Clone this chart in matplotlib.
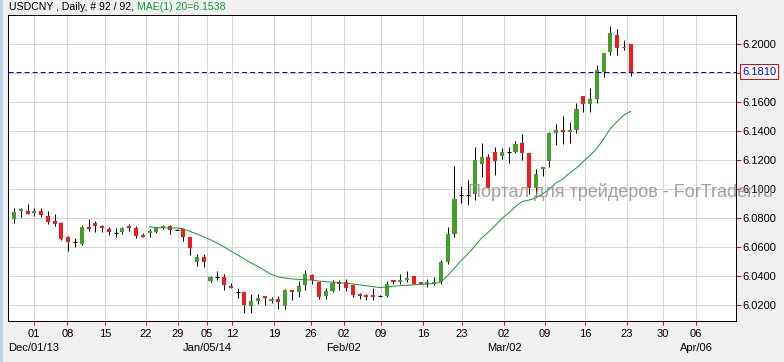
import matplotlib
matplotlib.use('Agg')
import matplotlib.pyplot as plt
import matplotlib.transforms as mtransforms
from matplotlib.patches import Rectangle

# daily USDCNY bars (open, high, low, close)
opens = [6.0790, 6.0853, 6.0847, 6.0840, 6.0847, 6.0817, 6.0778, 6.0764, 6.0668, 6.0635,
         6.0620, 6.0741, 6.0764, 6.0748, 6.0725, 6.0700, 6.0702, 6.0743, 6.0734, 6.0679,
         6.0700, 6.0702, 6.0732, 6.0746, 6.0719, 6.0725, 6.0666, 6.0500, 6.0529, 6.0367,
         6.0394, 6.0394, 6.0329, 6.0287, 6.0287, 6.0191, 6.0230, 6.0258, 6.0230, 6.0242,
         6.0190, 6.0305, 6.0290, 6.0338, 6.0408, 6.0360, 6.0262, 6.0298, 6.0355, 6.0360,
         6.0335, 6.0270, 6.0265, 6.0263, 6.0261, 6.0259, 6.0366, 6.0362, 6.0376, 6.0403,
         6.0355, 6.0350, 6.0343, 6.0362, 6.0500, 6.0691, 6.0956, 6.0956, 6.0965, 6.1175,
         6.1222, 6.1257, 6.1229, 6.1252, 6.1252, 6.1319, 6.1250, 6.1004, 6.1140, 6.1193,
         6.1384, 6.1402, 6.1395, 6.1407, 6.1642, 6.1587, 6.1622, 6.1809, 6.1942, 6.2063,
         6.1974, 6.2000]
highs = [6.0868, 6.0872, 6.0895, 6.0868, 6.0872, 6.0845, 6.0831, 6.0771, 6.0677, 6.0663,
         6.0755, 6.0790, 6.0776, 6.0750, 6.0741, 6.0734, 6.0741, 6.0762, 6.0748, 6.0700,
         6.0721, 6.0737, 6.0755, 6.0755, 6.0723, 6.0725, 6.0666, 6.0555, 6.0553, 6.0403,
         6.0432, 6.0412, 6.0351, 6.0318, 6.0287, 6.0274, 6.0274, 6.0262, 6.0258, 6.0260,
         6.0310, 6.0305, 6.0363, 6.0443, 6.0415, 6.0360, 6.0315, 6.0375, 6.0375, 6.0379,
         6.0335, 6.0284, 6.0274, 6.0318, 6.0270, 6.0365, 6.0373, 6.0417, 6.0437, 6.0403,
         6.0362, 6.0376, 6.0390, 6.0507, 6.0735, 6.1156, 6.1020, 6.1059, 6.1291, 6.1314,
         6.1240, 6.1291, 6.1284, 6.1293, 6.1331, 6.1379, 6.1250, 6.1140, 6.1152, 6.1391,
         6.1446, 6.1501, 6.1460, 6.1591, 6.1642, 6.1694, 6.1854, 6.1940, 6.2127, 6.2104,
         6.2029, 6.2000]
lows = [6.0764, 6.0806, 6.0826, 6.0817, 6.0806, 6.0760, 6.0748, 6.0645, 6.0571, 6.0603,
        6.0615, 6.0707, 6.0702, 6.0702, 6.0686, 6.0668, 6.0691, 6.0709, 6.0661, 6.0668,
        6.0672, 6.0695, 6.0721, 6.0688, 6.0716, 6.0640, 6.0548, 6.0472, 6.0463, 6.0356,
        6.0372, 6.0305, 6.0318, 6.0249, 6.0145, 6.0145, 6.0209, 6.0203, 6.0214, 6.0173,
        6.0175, 6.0235, 6.0256, 6.0305, 6.0347, 6.0242, 6.0242, 6.0293, 6.0305, 6.0296,
        6.0254, 6.0238, 6.0232, 6.0232, 6.0256, 6.0256, 6.0345, 6.0348, 6.0362, 6.0348,
        6.0345, 6.0323, 6.0339, 6.0346, 6.0484, 6.0667, 6.0905, 6.0887, 6.0927, 6.1080,
        6.1008, 6.1098, 6.1204, 6.1177, 6.1245, 6.1200, 6.0963, 6.0947, 6.1090, 6.1154,
        6.1303, 6.1310, 6.1315, 6.1384, 6.1532, 6.1532, 6.1594, 6.1774, 6.1926, 6.1926,
        6.1960, 6.1782]
closes = [6.0840, 6.0859, 6.0831, 6.0845, 6.0824, 6.0769, 6.0762, 6.0654, 6.0633, 6.0635,
          6.0741, 6.0727, 6.0748, 6.0734, 6.0702, 6.0700, 6.0734, 6.0728, 6.0679, 6.0672,
          6.0707, 6.0732, 6.0746, 6.0719, 6.0719, 6.0666, 6.0592, 6.0529, 6.0500, 6.0396,
          6.0394, 6.0336, 6.0322, 6.0287, 6.0200, 6.0230, 6.0251, 6.0251, 6.0244, 6.0223,
          6.0305, 6.0290, 6.0334, 6.0415, 6.0374, 6.0256, 6.0297, 6.0353, 6.0345, 6.0314,
          6.0266, 6.0263, 6.0258, 6.0258, 6.0261, 6.0342, 6.0362, 6.0366, 6.0380, 6.0348,
          6.0348, 6.0355, 6.0362, 6.0500, 6.0691, 6.0928, 6.0956, 6.0956, 6.1199, 6.1222,
          6.1008, 6.1195, 6.1257, 6.1252, 6.1312, 6.1250, 6.1004, 6.1105, 6.1152, 6.1384,
          6.1407, 6.1395, 6.1407, 6.1549, 6.1587, 6.1622, 6.1820, 6.1940, 6.2077, 6.1975,
          6.1977, 6.1810]

# MAE(1) 20 line, starts at bar 20
ma_start = 20
ma_values = [6.0739, 6.0734, 6.0732, 6.0732, 6.0732, 6.0725, 6.0707, 6.0690, 6.0669, 6.0650,
             6.0625, 6.0602, 6.0572, 6.0545, 6.0517, 6.0490, 6.0465, 6.0438, 6.0410, 6.0394,
             6.0386, 6.0380, 6.0377, 6.0374, 6.0372, 6.0365, 6.0360, 6.0357, 6.0354, 6.0350,
             6.0345, 6.0339, 6.0333, 6.0327, 6.0320, 6.0325, 6.0330, 6.0333, 6.0336, 6.0339,
             6.0343, 6.0345, 6.0348, 6.0358, 6.0403, 6.0455, 6.0507, 6.0553, 6.0607, 6.0662,
             6.0703, 6.0748, 6.0797, 6.0835, 6.0879, 6.0914, 6.0924, 6.0938, 6.0966, 6.1000,
             6.1042, 6.1069, 6.1111, 6.1145, 6.1190, 6.1231, 6.1279, 6.1345, 6.1417, 6.1466,
             6.1510, 6.1536]

last_price = 6.1810
ma_label = 6.1538

# date axis: ticks on Sundays, placed on the bar scale
tick_pos = [2.88, 7.89, 13.47, 19.43, 24.20, 28.48, 32.17, 38.37, 43.83, 48.69,
            54.15, 60.35, 66.11, 72.30, 78.35, 84.25, 90.45, 95.77, 100.64]
tick_days = ['01', '08', '15', '22', '29', '05', '12', '19', '26', '02',
             '09', '16', '23', '02', '09', '16', '23', '30', '06']
month_ticks = [0, 5, 9, 13, 18]
month_names = ['Dec/01/13', 'Jan/05/14', 'Feb/02', 'Mar/02', 'Apr/06']

price_ticks = [6.02, 6.04, 6.06, 6.08, 6.10, 6.12, 6.14, 6.16, 6.18, 6.20]

PX = 0.72  # one pixel in points at 100 dpi
GREEN = '#45a02a'
RED = '#f21a1a'
MA_GREEN = '#16993a'

plt.rcParams['font.family'] = ['Liberation Sans', 'DejaVu Sans']
plt.rcParams['lines.scale_dashes'] = False

W, H = 784, 362
fig = plt.figure(figsize=(W / 100, H / 100), dpi=100, facecolor='#f0f0f0')
ax = fig.add_axes([8 / W, (H - 321) / H, (736 - 8) / W, (321 - 15) / H])
ax.set_facecolor('white')

# thin blue strip on the left border
fig.patches.append(Rectangle((0, 0), 3 / W, 1, transform=fig.transFigure,
                             facecolor='#bcd3ec', edgecolor='none'))

body_w = 0.6
min_h = 0.0012
for i in range(len(opens)):
    o, h, l, c = opens[i], highs[i], lows[i], closes[i]
    ax.vlines(i, l, h, color='black', lw=PX, zorder=3)
    if c == o:
        ax.hlines(o, i - body_w / 2, i + body_w / 2, color='black', lw=PX, zorder=4)
        continue
    col = GREEN if c > o else RED
    bottom = min(o, c)
    height = abs(c - o)
    if height < min_h:
        bottom = (o + c) / 2 - min_h / 2
        height = min_h
    ax.bar(i, height, bottom=bottom, width=body_w, color=col, lw=0, zorder=4)

ma_x = list(range(ma_start, ma_start + len(ma_values)))
ax.plot(ma_x, ma_values, color=MA_GREEN, lw=1.0 * PX, zorder=5)

ax.axhline(last_price, color='#0000ff', lw=PX, dashes=(3.6, 2.2), zorder=6)

ax.set_xlim(-0.885, 106.54)
ax.set_ylim(6.00897, 6.2200)

ax.set_xticks(tick_pos)
ax.set_xticklabels(tick_days)
ax.set_yticks(price_ticks)
ax.set_yticklabels(['' if abs(p - 6.18) < 1e-9 else '%.4f' % p for p in price_ticks])
ax.yaxis.tick_right()
ax.tick_params(axis='y', colors='red', labelcolor='black', length=5 * PX, width=PX,
               pad=1, labelsize=8)
ax.tick_params(axis='x', colors='red', labelcolor='black', length=4 * PX, width=PX,
               pad=3, labelsize=8)
ax.grid(True, color='#d6d6d6', lw=PX)
ax.set_axisbelow(True)
for s in ax.spines.values():
    s.set_color('black')
    s.set_linewidth(PX)

# month row under the day numbers
tr = mtransforms.blended_transform_factory(ax.transData, fig.transFigure)
for k, name in zip(month_ticks, month_names):
    ax.text(tick_pos[k], 1 - 347.7 / H, name, transform=tr, ha='center', va='center',
            fontsize=8, clip_on=False)

# last price box on the right scale
tr_y = mtransforms.blended_transform_factory(ax.transAxes, ax.transData)
ax.text((742 - 8) / (736 - 8), last_price, '%.4f' % last_price, transform=tr_y,
        ha='left', va='center', fontsize=8, color='#0000ff', clip_on=False,
        bbox=dict(boxstyle='square,pad=0.2', fc='white', ec='red', lw=PX))

# header line
t1 = fig.text(9 / W, 1 - 6.5 / H, 'USDCNY , Daily, # 92 / 92, ', fontsize=7.6,
              ha='left', va='center', color='black')
fig.canvas.draw()
bb = t1.get_window_extent()
fig.text(bb.x1 / W, 1 - 6.5 / H, 'MAE(1) 20=%.4f' % ma_label, fontsize=7.6,
         ha='left', va='center', color='#109a3a')

# watermark
fig.text(468 / W, 1 - 197.3 / H, 'Портал для трейдеров - ForTrader.ru', fontsize=13,
         ha='left', va='baseline', color='#9a8c8c', alpha=0.85, zorder=10)

fig.savefig('out.png', dpi=100, facecolor=fig.get_facecolor())
